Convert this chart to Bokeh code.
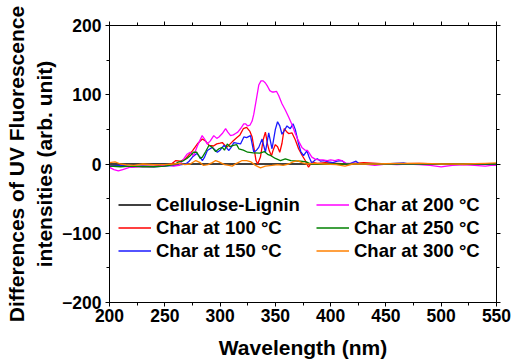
from bokeh.plotting import figure
from bokeh.models import (LinearAxis, SingleIntervalTicker, Legend, LegendItem, Range1d,
                          CustomJSTickFormatter)
from bokeh.embed import file_html
from bokeh.resources import INLINE

# ---------------- data ----------------
x_ticks = [200, 250, 300, 350, 400, 450, 500, 550]
y_ticks = [-200, -100, 0, 100, 200]

wl_cl = [200, 300, 400, 500, 550]
val_cl = [0, 0, 0, 0, 0]

wl_100 = [200, 210, 220, 230, 240, 250, 256, 260, 264, 269, 275, 280, 284, 287, 290, 294,
          297, 300, 302, 306, 311, 315, 318, 321, 324, 327, 329, 331, 332.5, 334, 336.5,
          339, 341, 343, 344.5, 346.5, 348, 350, 352, 354, 356, 358, 360, 362, 365, 368,
          371, 374, 377, 380, 383, 388, 395, 405, 415, 430, 450, 480, 520, 550]
val_100 = [-3, -2, -4, -3, -3, -2, 0, 5, 4, 8, 19, 30, 36, 33, 27, 26,
           29, 30, 31, 24, 32, 38, 42, 51, 53, 47, 39, 20, 5, 0, 10,
           35, 46, 28, 19, 12, 20, 28, 25, 17, 30, 51, 47, 44, 45, 35,
           22, 13, 5, -4.6, 2.6, 1, 2, 1, 0, 2, 0, 1, -1, 0]

wl_150 = [200, 210, 220, 230, 240, 250, 260, 265, 269, 272, 275, 279, 282, 284, 286, 288.5,
          291, 293, 295, 297.5, 300, 303.5, 306, 308, 310, 312.5, 315, 318.5, 321.5, 324,
          327.5, 330.5, 333, 335, 338, 341, 344, 347, 350, 352, 354, 356, 358, 360.5,
          363.5, 366, 368, 371, 373, 375.5, 378.5, 380.5, 383, 386, 388, 391, 394, 398,
          402, 406, 410, 414, 418, 423, 426, 435, 450, 466, 470, 490, 510, 530, 550]
val_150 = [-3, -2, -4, -3, -4, -3, -2, -1, 0, 4, 10, 15, 10, 5, 10, 19.5,
           22, 24, 21, 17, 20, 27, 23, 19.5, 24, 31, 30, 29, 39, 38,
           41, 17, 20, 24, 36, 17, 45, 22, 50, 61, 55, 43, 48, 55,
           51, 58, 50, 29, 18, 12, 19, 10, 1, 6, 7.5, 4, 5, 3,
           2, 4, 5, 0, 1, 4, 0, 0, 0, 1.5, 0, 0, -1, 0, 0]

wl_200 = [200, 204, 208, 212, 218, 225, 237, 245, 251, 258, 263, 267, 270, 273, 276, 280,
          283.8, 286, 288.3, 291, 294.3, 297, 299, 302, 305, 307, 309.5, 312, 314, 316,
          319, 321.4, 323, 325, 327, 329, 330.5, 333, 335, 337, 339, 341, 343, 345, 347,
          349, 351, 353, 356, 359, 362, 365, 368, 371, 374, 377, 379, 381, 383, 386, 389,
          393, 397, 400, 404, 407, 410, 414, 420, 430, 440, 450, 460, 470, 480, 490, 500,
          505, 510, 520, 530, 540, 545, 550]
val_200 = [-5, -8, -10, -8, -5, -4, -4, -3, -1, -3, -2, 7, 14, 17, 12, 28,
           41, 36, 29, 33, 41, 37, 39, 44, 51, 46, 41, 42, 44, 46,
           52, 58, 58, 55, 56, 62, 72, 95, 114, 120, 120, 117, 112, 106, 104,
           104, 105, 99, 87, 78, 68, 57, 44, 33, 24, 20, 19.5, 15, 10, 7, 6,
           6, 5, 6, 5, 6.5, 5, 1, 1, 0, -2, 0, -1, 0, -1, -2, -4,
           -3, -2, -1, -2, -3, -2, -2]

wl_250 = [200, 210, 220, 230, 240, 250, 258, 262, 266, 270, 273, 276, 279, 282, 284, 287,
          290, 293, 296, 299, 302, 304, 306.5, 309, 312, 315, 317, 321, 325, 330, 336,
          340, 343, 346, 350, 354.6, 359, 364, 373, 378, 382, 400, 450, 500, 550]
val_250 = [-3, -4, -3, -4, -4, -3, -1, 2.6, 4, 8, 12, 17, 17, 8, 10, 18,
           27, 24, 18, 22, 24, 20, 29, 25, 27, 28, 22, 20, 17, 16, 15.6,
           18, 14, 12, 8, 5, 7.5, 5, 4, 3, 0, 0, 0, 0, 0]

wl_300 = [200, 205, 210, 215, 222, 230, 240, 250, 258, 263, 268, 273, 278, 282, 285, 289,
          293, 296, 299, 304, 308, 311, 315, 320, 324, 328, 332, 336.5, 341, 347, 352,
          357, 362, 366, 370, 374, 378, 385, 395, 405, 413, 420, 440, 460, 483, 500, 520,
          540, 550]
val_300 = [2, 3, 0, -1, -2, 0, -1, -1, 0, 1, -1, 0, 5, 2, -2, -1,
           2, 5, 3, -1, -2, -3, 1, 5, 5, 3, -2, -5.5, -3, -2, -1,
           -2, 0, 3, 5, 2, 0, 1, 0, -1, -3, 0, 0, 1, 1, 0, 0,
           1, 1.5]

series = [
    ("Cellulose-Lignin", wl_cl, val_cl, "#404040", 2.0),
    ("Char at 100 \u00b0C", wl_100, val_100, "#ff0000", 1.3),
    ("Char at 150 \u00b0C", wl_150, val_150, "#1a1aff", 1.3),
    ("Char at 200 \u00b0C", wl_200, val_200, "#ff00ff", 1.3),
    ("Char at 250 \u00b0C", wl_250, val_250, "#008000", 1.3),
    ("Char at 300 \u00b0C", wl_300, val_300, "#ff8000", 1.3),
]

FONT = "Liberation Sans"

p = figure(width=512, height=363, output_backend="svg", toolbar_location=None,
           x_range=Range1d(200, 550), y_range=Range1d(-200, 200),
           min_border_left=109, min_border_right=16, min_border_top=25,
           min_border_bottom=61, x_axis_type=None, y_axis_type=None)
p.outline_line_color = "black"
p.outline_line_width = 1
p.xgrid.visible = False
p.ygrid.visible = False
p.background_fill_color = "white"
p.border_fill_color = "white"

renderers = {}
for name, w, v, col, lw in series:
    assert len(w) == len(v), name
    r = p.line(w, v, line_color=col, line_width=lw)
    renderers[name] = r


def style_axis(ax):
    ax.axis_line_color = "black"
    ax.axis_line_width = 1
    ax.major_tick_line_color = "black"
    ax.minor_tick_line_color = "black"
    ax.major_tick_out = 4
    ax.major_tick_in = 0
    ax.minor_tick_out = 3
    ax.minor_tick_in = 0
    ax.major_label_text_font = FONT
    ax.major_label_text_font_style = "bold"
    ax.major_label_text_font_size = "17.5px"
    ax.major_label_text_color = "black"
    ax.axis_label_text_font = FONT
    ax.axis_label_text_font_style = "bold"
    ax.axis_label_text_font_size = "21px"
    ax.axis_label_text_color = "black"


xb = LinearAxis(ticker=SingleIntervalTicker(interval=50, num_minor_ticks=2),
                axis_label="Wavelength (nm)")
style_axis(xb)
xb.major_label_standoff = 2
xb.axis_label_standoff = 11
p.add_layout(xb, "below")

yl = LinearAxis(ticker=SingleIntervalTicker(interval=100, num_minor_ticks=2),
                axis_label="Differences of UV Fluorescence\nintensities (arb. unit)")
style_axis(yl)
yl.major_label_standoff = 4
yl.axis_label_standoff = 3
p.add_layout(yl, "left")

# mirrored tick marks on the top and right edges, without labels
blank = CustomJSTickFormatter(code="return '';")
xt = LinearAxis(ticker=SingleIntervalTicker(interval=50, num_minor_ticks=2), formatter=blank)
style_axis(xt)
xt.major_label_standoff = 0
p.add_layout(xt, "above")

yr = LinearAxis(ticker=SingleIntervalTicker(interval=100, num_minor_ticks=2), formatter=blank)
style_axis(yr)
yr.major_label_standoff = 0
p.add_layout(yr, "right")


def make_legend(names, x, y):
    lg = Legend(items=[LegendItem(label=n, renderers=[renderers[n]]) for n in names],
                location=(x, y), orientation="vertical")
    lg.label_text_font = FONT
    lg.label_text_font_style = "bold"
    lg.label_text_font_size = "18.5px"
    lg.label_text_color = "black"
    lg.glyph_width = 33
    lg.glyph_height = 23
    lg.label_height = 23
    lg.label_standoff = 5
    lg.spacing = 0
    lg.padding = 0
    lg.margin = 0
    lg.border_line_alpha = 0
    lg.background_fill_alpha = 0
    return lg


p.add_layout(make_legend(["Cellulose-Lignin", "Char at 100 \u00b0C", "Char at 150 \u00b0C"], 9, 40))
p.add_layout(make_legend(["Char at 200 \u00b0C", "Char at 250 \u00b0C", "Char at 300 \u00b0C"], 207, 40))

open("out.html", "w").write(file_html(p, INLINE))
